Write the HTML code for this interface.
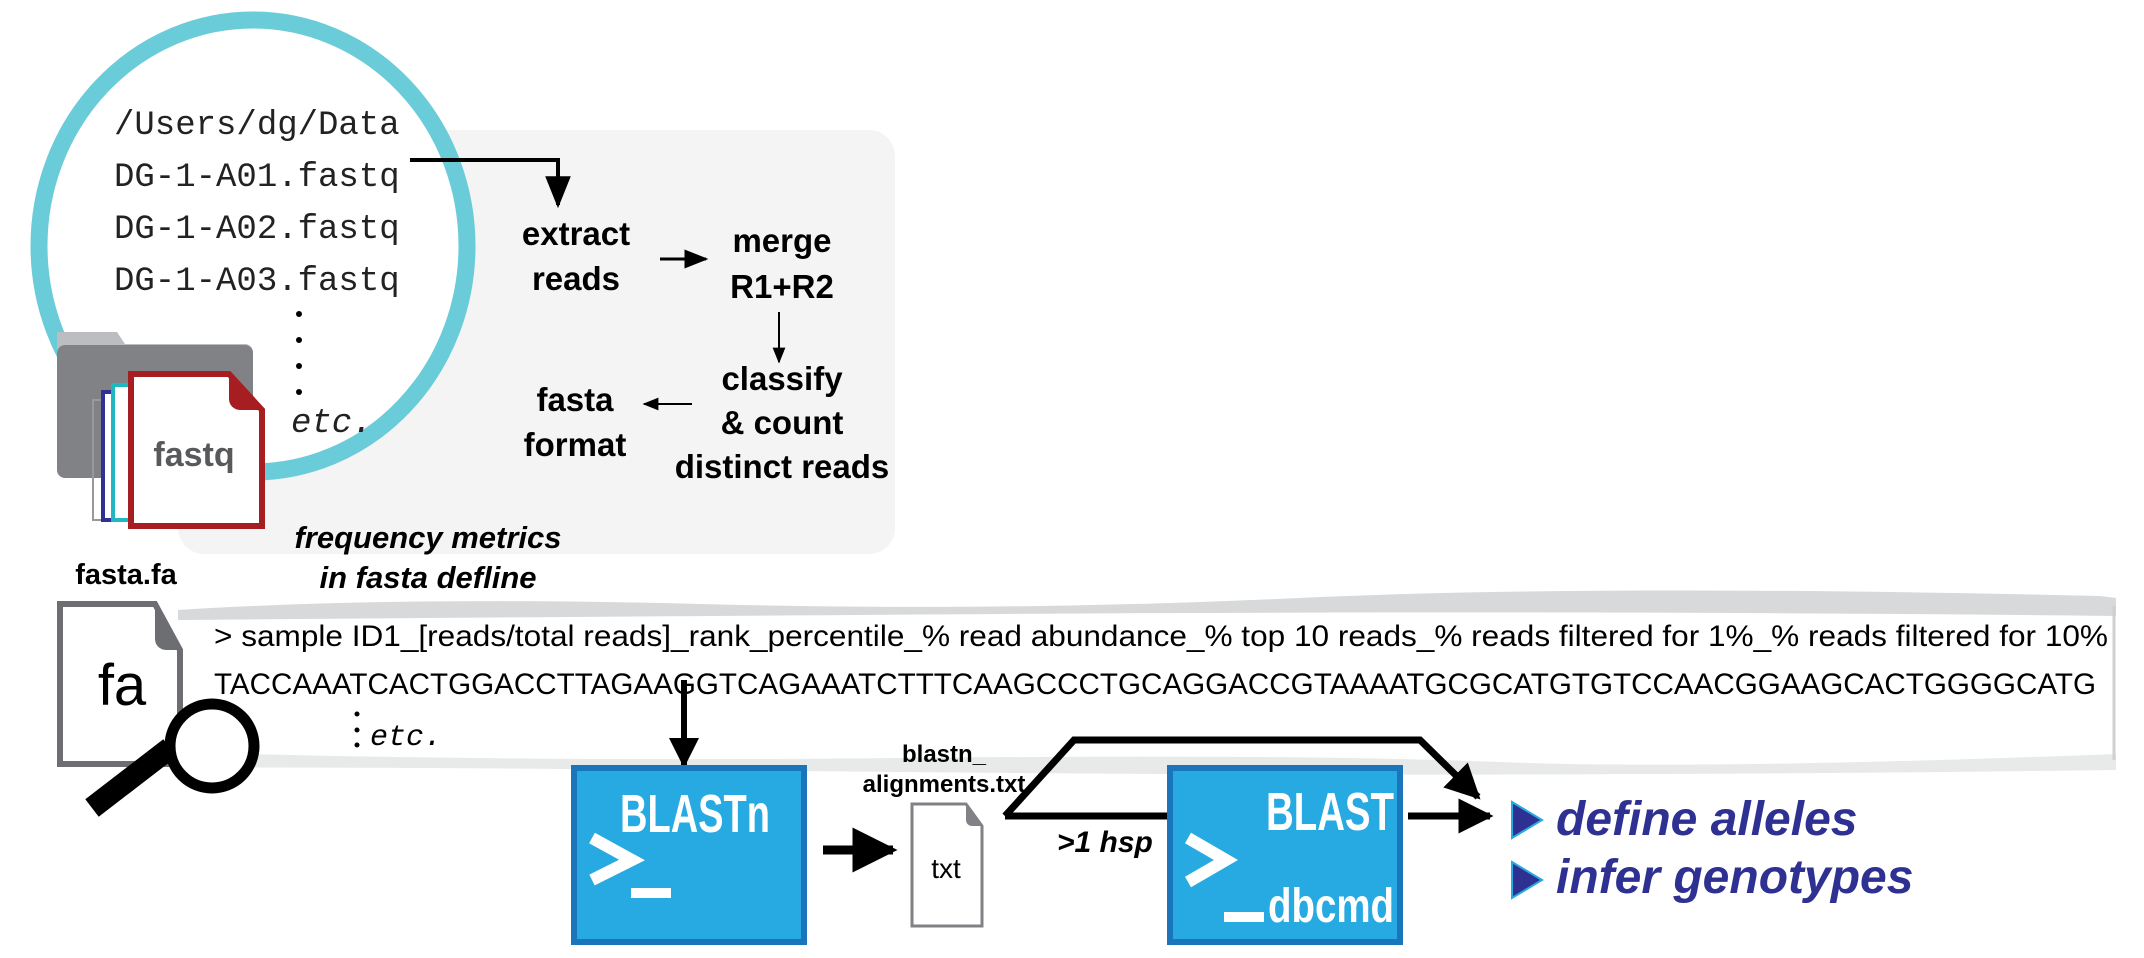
<!DOCTYPE html>
<html><head><meta charset="utf-8"><style>
html,body{margin:0;padding:0;background:#fff;}
svg{display:block;}
text{font-family:"Liberation Sans",sans-serif;}
.mono{font-family:"Liberation Mono",monospace;}
</style></head><body>
<svg width="2144" height="958" viewBox="0 0 2144 958" xmlns="http://www.w3.org/2000/svg">
<defs>
<marker id="ah" viewBox="0 0 10 10" refX="9" refY="5" markerWidth="5" markerHeight="5" orient="auto"><path d="M0,0 L10,5 L0,10 z" fill="#000"/></marker>
<marker id="ahs" viewBox="0 0 10 10" refX="9" refY="5" markerWidth="8" markerHeight="8" orient="auto"><path d="M0,1 L10,5 L0,9 z" fill="#000"/></marker>
</defs>
<rect x="178" y="130" width="717" height="424" rx="26" fill="#f3f4f3"/>
<ellipse cx="253" cy="246" rx="214" ry="226" fill="#fff" stroke="#6acbd9" stroke-width="17"/>
<g class="mono" font-size="34" fill="#222">
<text x="114" y="134" class="mono">/Users/dg/Data</text>
<text x="114" y="186" class="mono">DG-1-A01.fastq</text>
<text x="114" y="238" class="mono">DG-1-A02.fastq</text>
<text x="114" y="290" class="mono">DG-1-A03.fastq</text>
<text x="291" y="432" class="mono" font-style="italic">etc.</text>
</g>
<g fill="#000"><circle cx="299" cy="314" r="3"/><circle cx="299" cy="340" r="3"/><circle cx="299" cy="366" r="3"/><circle cx="299" cy="392" r="3"/></g>
<path d="M57,332 h60 l8,12 h120 a8,8 0 0 1 8,8 v20 H57z" fill="#bcbdc0"/>
<rect x="57" y="345" width="196" height="133" rx="8" fill="#808285"/>
<rect x="93" y="400" width="60" height="120" fill="none" stroke="#999" stroke-width="2"/>
<rect x="103" y="392" width="60" height="128" fill="#fff" stroke="#2e3192" stroke-width="4"/>
<rect x="113" y="385" width="60" height="135" fill="#fff" stroke="#20b8c0" stroke-width="4"/>
<path d="M131,374 H229 L262,410 V526 H131 Z" fill="#fff" stroke="#a61e22" stroke-width="6"/>
<path d="M229,374 L262,410 H240 a11,11 0 0 1 -11,-11 Z" fill="#a61e22"/>
<text x="194" y="466" font-size="34" font-weight="bold" fill="#58595b" text-anchor="middle">fastq</text>
<polyline points="410,160 558,160 558,205" fill="none" stroke="#000" stroke-width="4" marker-end="url(#ahs)"/>
<g font-size="33" font-weight="bold" text-anchor="middle" fill="#000">
<text x="576" y="245">extract</text><text x="576" y="290">reads</text>
<text x="782" y="252">merge</text><text x="782" y="298">R1+R2</text>
<text x="782" y="390">classify</text><text x="782" y="434">&amp; count</text><text x="782" y="478">distinct reads</text>
<text x="575" y="411">fasta</text><text x="575" y="456">format</text>
</g>
<line x1="660" y1="259" x2="706" y2="259" stroke="#000" stroke-width="3" marker-end="url(#ahs)"/>
<line x1="779" y1="312" x2="779" y2="362" stroke="#000" stroke-width="2" marker-end="url(#ahs)"/>
<line x1="692" y1="404" x2="644" y2="404" stroke="#000" stroke-width="2" marker-end="url(#ahs)"/>
<g font-size="31" font-weight="bold" font-style="italic" text-anchor="middle">
<text x="428" y="548">frequency metrics</text><text x="428" y="588">in fasta defline</text>
</g>
<text x="126" y="584" font-size="29" font-weight="bold" text-anchor="middle">fasta.fa</text>
<path d="M178,610 Q400,596 700,604 T1300,598 T2100,596 L2116,598 V616 Q1600,610 1000,614 T178,620Z" fill="#d8d9da"/>
<path d="M178,752 Q500,762 900,758 T1500,762 T2116,754 V770 Q1500,778 900,772 T178,768Z" fill="#e8e9e9"/>
<line x1="2114" y1="606" x2="2114" y2="760" stroke="#d0d0d0" stroke-width="3"/>
<path d="M60,604 H155 L180,650 V764 H60 Z" fill="#fff" stroke="#6d6e71" stroke-width="6"/>
<path d="M155,604 L180,650 H166 a11,11 0 0 1 -11,-11 Z" fill="#6d6e71"/>
<text x="122" y="705" font-size="58" text-anchor="middle">fa</text>
<line x1="92" y1="808" x2="170" y2="748" stroke="#000" stroke-width="22"/>
<circle cx="212" cy="746" r="42" fill="#fff" stroke="#000" stroke-width="11"/>
<text x="214" y="646" font-size="30" textLength="1894" lengthAdjust="spacingAndGlyphs">&gt; sample ID1_[reads/total reads]_rank_percentile_% read abundance_% top 10 reads_% reads filtered for 1%_% reads filtered for 10%</text>
<text x="214" y="694" font-size="30" textLength="1882" lengthAdjust="spacingAndGlyphs">TACCAAATCACTGGACCTTAGAAGGTCAGAAATCTTTCAAGCCCTGCAGGACCGTAAAATGCGCATGTGTCCAACGGAAGCACTGGGGCATG</text>
<g fill="#000"><circle cx="357" cy="714" r="2.5"/><circle cx="357" cy="730" r="2.5"/><circle cx="357" cy="745" r="2.5"/></g>
<text x="370" y="745" class="mono" font-size="30" font-style="italic">etc.</text>
<line x1="684" y1="680" x2="684" y2="765" stroke="#000" stroke-width="6" marker-end="url(#ah)"/>
<rect x="574" y="768" width="230" height="174" fill="#27aae1" stroke="#1b75bb" stroke-width="6"/>
<text x="620" y="832" font-size="54" font-weight="bold" fill="#fff" textLength="150" lengthAdjust="spacingAndGlyphs">BLASTn</text>
<path d="M592,838 L632,860 L592,880" fill="none" stroke="#fff" stroke-width="12"/>
<rect x="631" y="888" width="40" height="10" fill="#fff"/>
<line x1="823" y1="850" x2="893" y2="850" stroke="#000" stroke-width="9" marker-end="url(#ah)"/>
<text x="944" y="762" font-size="24" font-weight="bold" text-anchor="middle">blastn_</text>
<text x="944" y="792" font-size="24" font-weight="bold" text-anchor="middle">alignments.txt</text>
<path d="M912,804 H966 L982,826 V926 H912 Z" fill="#fff" stroke="#808285" stroke-width="3"/>
<path d="M966,804 L982,826 H972 a6,6 0 0 1 -6,-6Z" fill="#808285"/>
<text x="946" y="878" font-size="28" text-anchor="middle">txt</text>
<polyline points="1005,816 1074,740 1420,740 1478,797" fill="none" stroke="#000" stroke-width="7" marker-end="url(#ah)" stroke-linejoin="miter"/>
<line x1="1005" y1="816" x2="1170" y2="816" stroke="#000" stroke-width="7"/>
<line x1="1408" y1="816" x2="1490" y2="816" stroke="#000" stroke-width="7" marker-end="url(#ah)"/>
<text x="1057" y="852" font-size="30" font-weight="bold" font-style="italic">&gt;1 hsp</text>
<rect x="1170" y="768" width="230" height="174" fill="#27aae1" stroke="#1b75bb" stroke-width="6"/>
<text x="1394" y="830" font-size="54" font-weight="bold" fill="#fff" text-anchor="end" textLength="128" lengthAdjust="spacingAndGlyphs">BLAST</text>
<path d="M1188,838 L1226,860 L1188,882" fill="none" stroke="#fff" stroke-width="12"/>
<rect x="1224" y="912" width="40" height="10" fill="#fff"/>
<text x="1394" y="922" font-size="48" font-weight="bold" fill="#fff" text-anchor="end" textLength="126" lengthAdjust="spacingAndGlyphs">dbcmd</text>
<path d="M1512,802 L1542,820 L1512,838Z" fill="#2e3192" stroke="#27aae1" stroke-width="2"/>
<path d="M1512,862 L1542,880 L1512,898Z" fill="#2e3192" stroke="#27aae1" stroke-width="2"/>
<g font-size="48" font-weight="bold" font-style="italic" fill="#2e3192">
<text x="1556" y="835">define alleles</text>
<text x="1556" y="893">infer genotypes</text>
</g>
</svg>
</body></html>
